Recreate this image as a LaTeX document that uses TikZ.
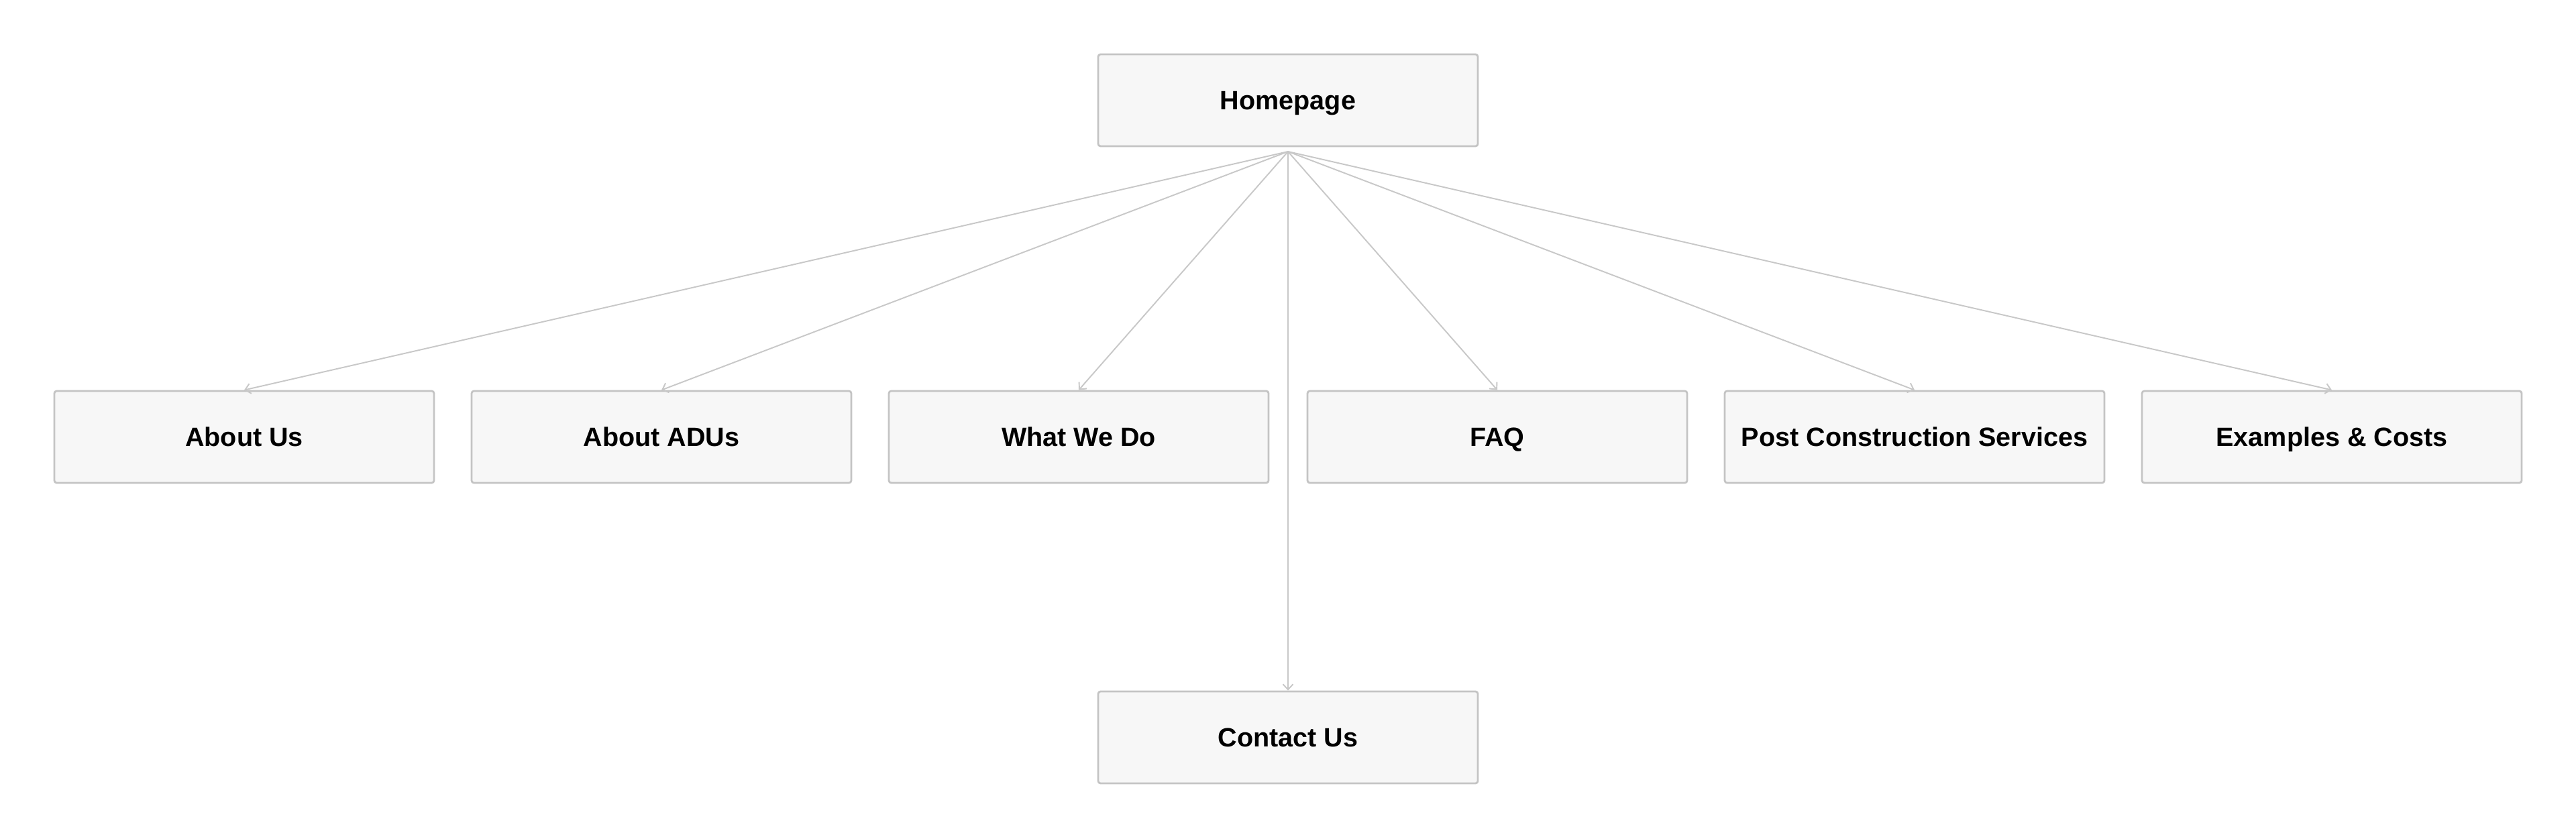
\documentclass[tikz,border=0pt]{standalone}
\usepackage{fontspec}
\setmainfont{Liberation Sans}
\usetikzlibrary{arrows.meta}
\definecolor{boxfill}{HTML}{F7F7F7}
\definecolor{boxline}{HTML}{C4C4C4}
\definecolor{edgeline}{HTML}{C8C8C8}
\tikzset{
  pagebox/.style={draw=boxline, fill=boxfill, line width=0.8pt, rounded corners=1pt,
    minimum width=5.66cm, minimum height=1.37cm, inner sep=0pt,
    text height=8.06pt, text depth=0pt,
    font=\fontsize{11.25pt}{13pt}\selectfont\bfseries},
  link/.style={draw=edgeline, line width=0.55pt,
    -{Straight Barb[length=0.08cm,width=0.15cm,line width=0.55pt]}}
}
\begin{document}
\begin{tikzpicture}
\useasboundingbox (0,0) rectangle (38.4,12.5);
\node[pagebox] (home) at (19.20,11.005) {Homepage};
\node[pagebox] (about) at (3.64,5.985) {About Us};
\node[pagebox] (adus) at (9.86,5.985) {About ADUs};
\node[pagebox] (what) at (16.08,5.985) {What We Do};
\node[pagebox] (faq) at (22.32,5.985) {FAQ};
\node[pagebox] (post) at (28.54,5.985) {Post Construction Services};
\node[pagebox] (ex) at (34.76,5.985) {Examples \& Costs};
\node[pagebox] (contact) at (19.20,1.505) {Contact Us};
\coordinate (apex) at (19.20,10.24);
\foreach \t in {about,adus,what,faq,post,ex,contact}{
  \draw[link] (apex) -- (\t.north);
}
\end{tikzpicture}
\end{document}
